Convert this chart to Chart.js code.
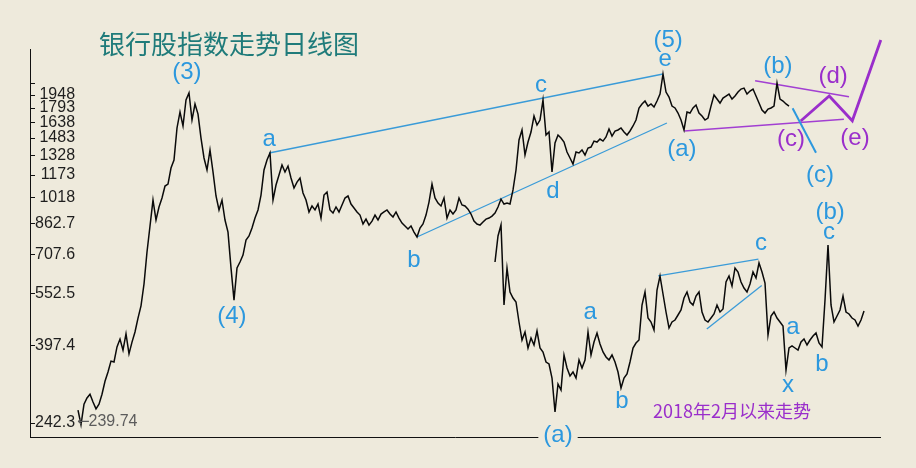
<!DOCTYPE html>
<html>
<head>
<meta charset="utf-8">
<title>银行股指数走势日线图</title>
<script src="https://cdn.jsdelivr.net/npm/chart.js@4.4.1/dist/chart.umd.min.js"></script>
<style>
  html, body { margin: 0; padding: 0; background: #eeeadc; }
  canvas { display: block; }
</style>
</head>
<body>
<canvas id="chart" width="916" height="468"></canvas>
<script>
const BG = '#eeeadc';
const BLUE = '#2c98de';
const PURPLE = '#9a2ecb';

// long-term daily index (log scale)
const bankIndex = [
  263, 239.74, 273, 284, 291, 277, 265, 273, 291, 316,
  335, 359, 357, 393, 413, 385, 427, 376, 405, 432,
  472, 510, 586, 718, 847, 999, 880, 956, 1012, 1092,
  1106, 1224, 1288, 1579, 1748, 1599, 1886, 1972, 1661, 1839,
  1725, 1481, 1305, 1209, 1373, 1194, 1025, 938, 999, 880,
  815, 649, 529, 649, 674, 704, 775, 795, 836, 891,
  938, 1031, 1209, 1288, 1347, 999, 1099, 1171, 1248, 1194,
  1240, 1149, 1078, 1120, 1149, 1045, 999, 926, 962, 938,
  974, 891, 1031, 1051, 938, 920, 956, 926, 968, 1012,
  1025, 974, 950, 926, 908, 858, 885, 852, 874, 908,
  880, 914, 926, 938, 914, 897, 926, 891, 863, 847,
  831, 847, 815, 790, 836, 858, 908, 986, 1106, 1012,
  980, 962, 1012, 891, 938, 914, 938, 1012, 968, 962,
  943, 914, 874, 858, 852, 869, 885, 891, 902, 920,
  956, 1005, 974, 980, 974, 1065, 1209, 1463, 1559, 1330,
  1444, 1539, 1704, 1609, 1661, 1886, 1510, 1539, 1194, 1435,
  1510, 1481, 1444, 1355, 1305, 1256, 1355, 1347, 1373, 1330,
  1390, 1399, 1453, 1444, 1472, 1453, 1491, 1569, 1500, 1549,
  1559, 1579, 1539, 1510, 1549, 1599, 1661, 1793, 1839, 1874,
  1815, 1839, 1804, 1874, 1959, 2225, 1984, 1922, 1815, 1793,
  1736, 1661, 1559, 1748, 1736, 1793, 1827, 1736, 1704, 1661,
  1682, 1815, 1947, 1898, 1850, 1910, 1934, 1959, 1898, 1934,
  1984, 2022, 2035, 1959, 1997, 2022, 1934, 1850, 1770, 1736,
  1781, 1793, 1815, 2101, 1898, 1874, 1839, 1815
];

// since Feb 2018 (own hidden scale)
const since2018 = [
  3275, 3405, 3460, 3060, 3245, 3125, 3095, 3075, 2975, 2885,
  2925, 2845, 2895, 2860, 2930, 2845, 2825, 2775, 2765, 2695,
  2525, 2665, 2635, 2810, 2745, 2705, 2725, 2695, 2785, 2745,
  2785, 2925, 2810, 2875, 2920, 2865, 2825, 2800, 2785, 2810,
  2775, 2725, 2645, 2695, 2715, 2775, 2845, 2870, 2885, 3060,
  3125, 2995, 2975, 2935, 3135, 3205, 3115, 3025, 2945, 2975,
  2985, 3010, 3035, 3095, 3125, 3075, 3060, 3105, 3125, 3025,
  2985, 2975, 2995, 3015, 3060, 3025, 3040, 3175, 3205, 3155,
  3245, 3225, 3175, 3145, 3125, 3165, 3225, 3195, 3270, 3225,
  3170, 2910, 3005, 3025, 2995, 2975, 2955, 2735, 2845, 2855,
  2845, 2835, 2875, 2890, 2860, 2885, 2905, 2920, 2870, 2850,
  3085, 3360, 3060, 2975, 3005, 3035, 3105, 3025, 3015, 2995,
  2985, 2955, 2985, 3030
];

const yTickValues = [242.3, 397.4, 552.5, 707.6, 862.7, 1017.8, 1172.9, 1328, 1483.1, 1638.2, 1793.3, 1948.4, 2103.5];
const yTickLabels = ['242.3', '397.4', '552.5', '707.6', '862.7', '1018', '1173', '1328', '1483', '1638', '1793', '1948', ''];

// trend lines, [day index, level]
const upperWedge = [[63.7, 1347], [195, 2225]];
const lowerWedge = [[113, 790], [196.3, 1630]];
const waveCLine = [[238.2, 1789], [246, 1349]];
const triUpper = [[225.7, 2132], [257, 1926]];
const triLower = [[202.1, 1549], [255.3, 1668]];
const triPath = [[240.9, 1650], [250.4, 1934], [258.1, 1653], [267.6, 2761]];
const insetUpper = [[54.4, 3206], [87.8, 3289]];
const insetLower = [[70.6, 2940], [88.9, 3157]];

// wave labels: [text, day index, level, colour]
const mainLabels = [
  ['(3)', 36.3, 2141, BLUE], ['(4)', 51.3, 475, BLUE], ['a', 63.7, 1463, BLUE],
  ['b', 112, 691, BLUE], ['c', 154.3, 2074, BLUE], ['d', 158.3, 1065, BLUE],
  ['e', 195.7, 2432, BLUE], ['(5)', 196.7, 2744, BLUE], ['(a)', 201.3, 1373, BLUE],
  ['(b)', 233.3, 2326, BLUE], ['(c)', 247.3, 1164, BLUE],
  ['(c)', 237.7, 1463, PURPLE], ['(d)', 251.7, 2183, PURPLE], ['(e)', 259, 1472, PURPLE]
];
const insetLabels = [
  ['(a)', 21, 2405, BLUE], ['a', 31.7, 3025, BLUE], ['b', 42.3, 2590, BLUE],
  ['c', 88.7, 3370, BLUE], ['x', 97.7, 2660, BLUE], ['a', 99.3, 2950, BLUE],
  ['b', 109, 2775, BLUE], ['(b)', 111.7, 3520, BLUE], ['c', 111.3, 3425, BLUE]
];
const insetCaption = ['2018年2月以来走势', 79, 2530];
const title = '银行股指数走势日线图';

const pts = arr => arr.map(([x, y]) => ({ x, y }));
const seg = (arr, color, width, ids, extra) => Object.assign({
  data: pts(arr), borderColor: color, borderWidth: width, pointRadius: 0,
  xAxisID: ids[0], yAxisID: ids[1]
}, extra || {});

const MAIN = ['x', 'y'], INSET = ['x2', 'y2'];

const datasets = [
  { data: bankIndex.map((v, i) => ({ x: i, y: v })), borderColor: '#0a0a0a', borderWidth: 1.5,
    pointRadius: 0, xAxisID: 'x', yAxisID: 'y' },
  { data: since2018.map((v, i) => ({ x: i, y: v })), borderColor: '#0a0a0a', borderWidth: 1.5,
    pointRadius: 0, xAxisID: 'x2', yAxisID: 'y2' },
  seg(upperWedge, '#3a9bd8', 1.3, MAIN),
  seg(lowerWedge, '#3a9bd8', 1.3, MAIN),
  seg(waveCLine, '#2c98de', 2, MAIN),
  seg(insetUpper, '#3a9bd8', 1.3, INSET),
  seg(insetLower, '#3a9bd8', 1.3, INSET),
  seg(triUpper, '#a23fd2', 1.5, MAIN),
  seg(triLower, '#a23fd2', 1.5, MAIN),
  seg(triPath, PURPLE, 2.8, MAIN, { clip: false })
];

const background = {
  id: 'background',
  beforeDraw(chart) {
    const { ctx, width, height } = chart;
    ctx.save();
    ctx.fillStyle = BG;
    ctx.fillRect(0, 0, width, height);
    ctx.restore();
  }
};

// put text so that its ink box is centred on (cx, cy)
function inkText(ctx, text, cx, cy, font, color, bg) {
  ctx.font = font;
  const m = ctx.measureText(text);
  const asc = m.actualBoundingBoxAscent, desc = m.actualBoundingBoxDescent;
  if (bg) {
    ctx.fillStyle = bg;
    ctx.fillRect(cx - m.width / 2 - 5, cy - (asc + desc) / 2 - 2, m.width + 10, asc + desc + 4);
  }
  ctx.fillStyle = color;
  ctx.textAlign = 'center';
  ctx.textBaseline = 'alphabetic';
  ctx.fillText(text, cx, cy + (asc - desc) / 2);
}

const annotations = {
  id: 'annotations',
  afterDraw(chart) {
    const { ctx, chartArea, scales } = chart;
    const { x, y, x2, y2 } = scales;
    ctx.save();

    // tick marks point into the plot
    ctx.strokeStyle = '#111';
    ctx.lineWidth = 1;
    y.ticks.forEach(t => {
      const py = Math.round(y.getPixelForValue(t.value)) + 0.5;
      ctx.beginPath();
      ctx.moveTo(chartArea.left, py);
      ctx.lineTo(chartArea.left + 5, py);
      ctx.stroke();
    });

    // title
    ctx.font = '26px "Noto Sans CJK SC"';
    const tm = ctx.measureText(title);
    ctx.fillStyle = '#1f7b7a';
    ctx.textAlign = 'left';
    ctx.textBaseline = 'alphabetic';
    ctx.fillText(title, chartArea.left + 69, 44 + (tm.actualBoundingBoxAscent - tm.actualBoundingBoxDescent) / 2);

    // lowest close, marked with an arrow
    const low = Math.min(...bankIndex);
    const li = bankIndex.indexOf(low);
    let lx = x.getPixelForValue(li) - 4;
    const ly = y.getPixelForValue(low) - 3;
    ctx.fillStyle = '#5c5c5c';
    ctx.textBaseline = 'middle';
    ctx.font = '15px "DejaVu Sans"';
    ctx.fillText('\u2190', lx, ly);
    lx += ctx.measureText('\u2190').width - 1;
    ctx.font = '16px "Liberation Sans", Arial';
    ctx.fillText(low.toFixed(2), lx, ly);

    const font = '24px "Liberation Sans", Arial';
    mainLabels.forEach(([t, i, v, c]) =>
      inkText(ctx, t, x.getPixelForValue(i), y.getPixelForValue(v), font, c));
    insetLabels.forEach(([t, i, v, c], k) =>
      inkText(ctx, t, x2.getPixelForValue(i), y2.getPixelForValue(v), font, c, k === 0 ? BG : null));
    inkText(ctx, insetCaption[0], x2.getPixelForValue(insetCaption[1]), y2.getPixelForValue(insetCaption[2]),
      '18px "Noto Sans CJK SC"', PURPLE);

    ctx.restore();
  }
};

new Chart(document.getElementById('chart'), {
  type: 'line',
  data: { datasets },
  options: {
    responsive: false,
    animation: false,
    events: [],
    layout: { padding: { left: 30, right: 36, top: 49, bottom: 31 } },
    plugins: { legend: { display: false }, tooltip: { enabled: false } },
    scales: {
      x: {
        type: 'linear', min: -16, max: 267.33,
        ticks: { display: false },
        grid: { display: false, drawTicks: false },
        border: { color: '#111', width: 1 },
        afterFit(s) { s.height = 0; }
      },
      y: {
        type: 'logarithmic', position: 'left', min: 221.7, max: 2608,
        afterBuildTicks(s) { s.ticks = yTickValues.map(v => ({ value: v })); },
        ticks: {
          mirror: true, crossAlign: 'far', padding: 5, autoSkip: false,
          font: { family: '"Liberation Sans", Arial', size: 16 }, color: '#1e1e1e',
          callback: (v, i) => yTickLabels[i]
        },
        grid: { display: false, drawTicks: false },
        border: { color: '#111', width: 1 },
        afterFit(s) { s.width = 0; }
      },
      x2: { type: 'linear', display: false, min: -155, max: 128.33 },
      y2: { type: 'linear', display: false, min: 2400, max: 4340 }
    }
  },
  plugins: [background, annotations]
});
</script>
</body>
</html>
